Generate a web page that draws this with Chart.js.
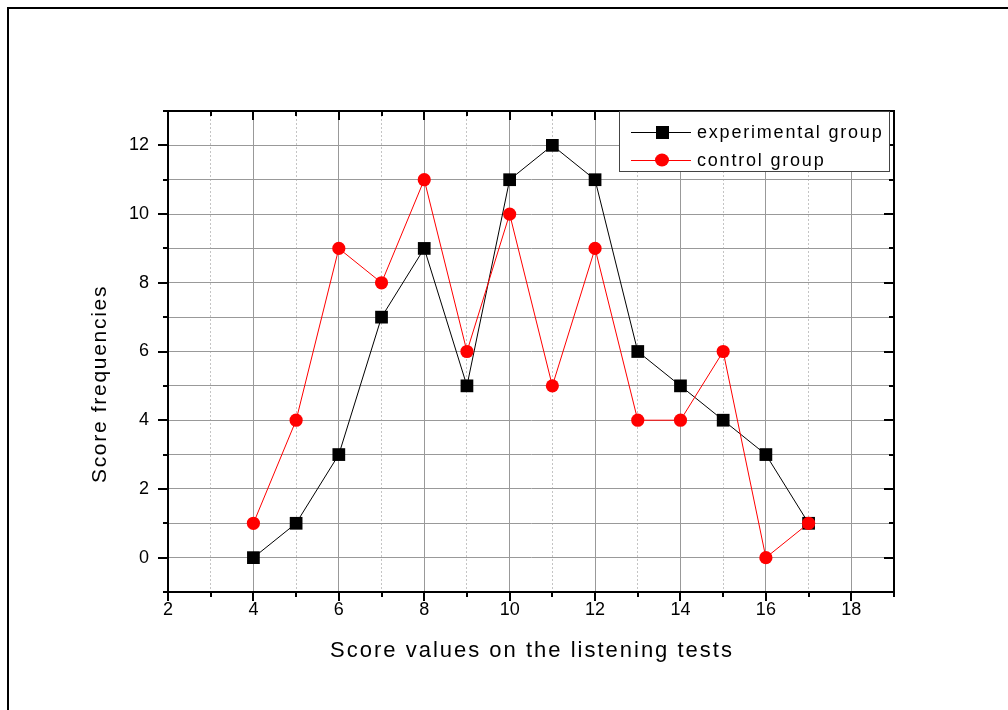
<!DOCTYPE html>
<html>
<head>
<meta charset="utf-8">
<script src="https://cdn.jsdelivr.net/npm/chart.js"></script>
<style>
  html, body { margin: 0; padding: 0; background: #fff; }
  #wrap { width: 1008px; height: 710px; position: relative; }
</style>
</head>
<body>
<div id="wrap"><canvas id="chart" width="1008" height="710"></canvas></div>
<script>
const scores = [4, 5, 6, 7, 8, 9, 10, 11, 12, 13, 14, 15, 16, 17];
const experimental = [0, 1, 3, 7, 9, 5, 11, 12, 11, 6, 5, 4, 3, 1];
const control = [1, 4, 9, 8, 11, 6, 10, 5, 9, 4, 4, 6, 0, 1];
const seriesNames = ['experimental group', 'control group'];
const xTitle = 'Score values on the listening tests';
const yTitle = 'Score frequencies';

const FONT = '"Liberation Sans", Arial, sans-serif';

const toPoints = (vals) => scores.map((s, i) => ({ x: s, y: vals[i] }));

// frame, minor/major ticks, titles and legend box (Origin style)
const decor = {
  id: 'decor',
  beforeDraw(chart) {
    const ctx = chart.ctx;
    ctx.save();
    ctx.fillStyle = '#fff';
    ctx.fillRect(0, 0, chart.width, chart.height);
    // page frame
    ctx.fillStyle = '#000';
    ctx.fillRect(7, 7, chart.width, 2);
    ctx.fillRect(7, 7, 2, chart.height);
    ctx.restore();
  },
  afterDraw(chart) {
    const { ctx, chartArea: a } = chart;
    const xs = chart.scales.x, ys = chart.scales.y;
    ctx.save();
    ctx.strokeStyle = '#000';
    ctx.lineWidth = 2;
    ctx.strokeRect(a.left, a.top, a.right - a.left, a.bottom - a.top);

    ctx.beginPath();
    xs.ticks.forEach(t => {
      const px = Math.round(xs.getPixelForValue(t.value));
      const len = t.value % 2 === 0 ? 9 : 5;
      ctx.moveTo(px, a.bottom); ctx.lineTo(px, a.bottom + len);
      ctx.moveTo(px, a.top); ctx.lineTo(px, a.top + len);
    });
    ys.ticks.forEach(t => {
      const py = Math.round(ys.getPixelForValue(t.value));
      const len = t.value % 2 === 0 ? 10 : 5;
      ctx.moveTo(a.left - len, py); ctx.lineTo(a.left, py);
      ctx.moveTo(a.right - len, py); ctx.lineTo(a.right, py);
    });
    ctx.stroke();

    // axis titles
    ctx.fillStyle = '#000';
    ctx.textBaseline = 'middle';
    ctx.textAlign = 'center';
    ctx.font = '22px ' + FONT;
    ctx.letterSpacing = '2px';
    ctx.fillText(xTitle, (a.left + a.right) / 2 + 1, 651);
    ctx.save();
    ctx.translate(100, 384);
    ctx.rotate(-Math.PI / 2);
    ctx.font = '21px ' + FONT;
    ctx.letterSpacing = '1.7px';
    ctx.fillText(yTitle, 0, 0);
    ctx.restore();

    // legend
    const bx = 619, by = 111, bw = 270, bh = 60;
    ctx.fillStyle = '#fff';
    ctx.fillRect(bx, by, bw, bh);
    ctx.strokeStyle = '#444';
    ctx.lineWidth = 1;
    ctx.strokeRect(bx + 0.5, by + 0.5, bw, bh);
    const rows = [132, 160];
    chart.data.datasets.slice().sort((p, q) => p.legendIndex - q.legendIndex).forEach((ds, i) => {
      const y = rows[i];
      ctx.strokeStyle = ds.borderColor;
      ctx.lineWidth = 1;
      ctx.beginPath();
      ctx.moveTo(631, y + 0.5); ctx.lineTo(691, y + 0.5);
      ctx.stroke();
      ctx.fillStyle = ds.pointBackgroundColor;
      if (ds.pointStyle === 'rect') {
        ctx.fillRect(656, y - 6, 13, 13);
      } else {
        ctx.beginPath();
        ctx.ellipse(662, y, 7, 6.5, 0, 0, Math.PI * 2);
        ctx.fill();
      }
      ctx.fillStyle = '#000';
      ctx.textAlign = 'left';
      ctx.font = '18px ' + FONT;
      ctx.letterSpacing = '1.8px';
      ctx.fillText(ds.label, 697, y + 1);
    });
    ctx.restore();
  }
};

new Chart(document.getElementById('chart'), {
  type: 'line',
  data: {
    datasets: [
      {
        label: seriesNames[0],
        legendIndex: 0,
        order: 2,
        data: toPoints(experimental),
        borderColor: '#000',
        borderWidth: 1,
        pointStyle: 'rect',
        pointRadius: 9,
        pointBackgroundColor: '#000',
        pointBorderWidth: 0,
        tension: 0
      },
      {
        label: seriesNames[1],
        legendIndex: 1,
        order: 1,
        data: toPoints(control),
        borderColor: '#ff0000',
        borderWidth: 1,
        pointStyle: 'circle',
        pointRadius: 6.6,
        pointBackgroundColor: '#ff0000',
        pointBorderWidth: 0,
        tension: 0
      }
    ]
  },
  options: {
    responsive: false,
    animation: false,
    layout: { padding: { top: 111, right: 114, left: 88, bottom: 42 } },
    plugins: { legend: { display: false }, tooltip: { enabled: false } },
    scales: {
      x: {
        type: 'linear',
        min: 2,
        max: 19,
        afterFit: (s) => { s.height = 76; },
        ticks: {
          stepSize: 1,
          autoSkip: false,
          maxRotation: 0,
          padding: 7,
          color: '#000',
          font: { family: FONT, size: 18 },
          callback: (v) => (v % 2 === 0 ? v : '')
        },
        grid: {
          drawTicks: false,
          color: (c) => (c.tick && c.tick.value % 2 !== 0 ? '#c4c4c4' : '#999'),
          lineWidth: 1
        },
        border: {
          color: '#000',
          width: 2,
          dash: (c) => (c.tick && c.tick.value % 2 !== 0 ? [2, 2] : [])
        }
      },
      y: {
        min: -1,
        max: 13,
        afterFit: (s) => { s.width = 80; },
        ticks: {
          stepSize: 1,
          autoSkip: false,
          padding: 19,
          color: '#000',
          font: { family: FONT, size: 18 },
          callback: (v) => (v % 2 === 0 ? v : '')
        },
        grid: { drawTicks: false, color: '#999', lineWidth: 1 },
        border: { color: '#000', width: 2 }
      }
    }
  },
  plugins: [decor]
});
</script>
</body>
</html>
